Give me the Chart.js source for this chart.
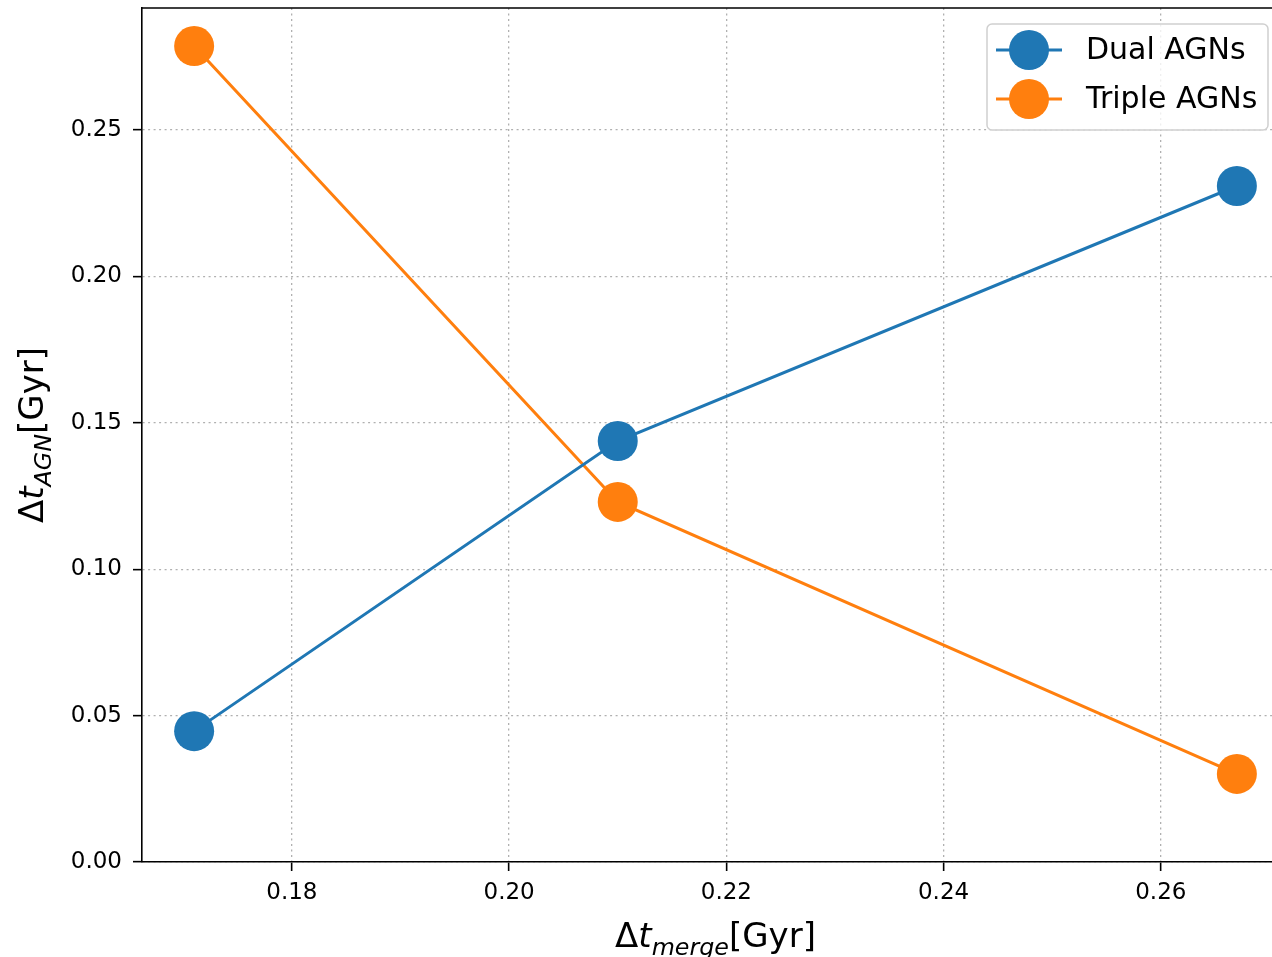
<!DOCTYPE html>
<html>
<head>
<meta charset="utf-8">
<script src="https://cdn.jsdelivr.net/npm/chart.js@4/dist/chart.umd.min.js"></script>
<style>
  html, body { margin: 0; padding: 0; overflow: hidden; background: #fff; }
  #wrap { position: relative; width: 1300px; height: 957px; }
</style>
</head>
<body>
<div id="wrap"><canvas id="myChart"></canvas></div>
<script>
// merger timescale vs AGN timescale
const mergeTimes = [0.171, 0.210, 0.267];
const dualAGN = [0.0447, 0.1438, 0.2309];
const tripleAGN = [0.2787, 0.1230, 0.0301];
const xTicks = [0.18, 0.20, 0.22, 0.24, 0.26];
const yTicks = [0.00, 0.05, 0.10, 0.15, 0.20, 0.25];

const blue = "#1f77b4";
const orange = "#ff7f0e";
const tickFont = { family: "DejaVu Sans", size: 23 };

function toPoints(ys) {
  return mergeTimes.map((x, i) => ({ x: x, y: ys[i] }));
}

// draws things like Δt_merge[Gyr]: upright / italic runs, subscripts smaller and lower
function drawMathLabel(ctx, parts, cx, cy, rotate) {
  const size = 34;
  ctx.save();
  ctx.translate(cx, cy);
  if (rotate) ctx.rotate(-Math.PI / 2);
  let total = 0;
  const widths = parts.map((p) => {
    const s = p.sub ? size * 0.7 : size;
    ctx.font = (p.italic ? "oblique " : "") + s + "px 'DejaVu Sans'";
    const w = ctx.measureText(p.text).width;
    total += w;
    return w;
  });
  let x = -total / 2;
  ctx.fillStyle = "#000";
  ctx.textBaseline = "alphabetic";
  ctx.textAlign = "left";
  parts.forEach((p, i) => {
    const s = p.sub ? size * 0.7 : size;
    ctx.font = (p.italic ? "oblique " : "") + s + "px 'DejaVu Sans'";
    ctx.fillText(p.text, x, size * 0.36 + (p.sub ? size * 0.24 : 0));
    x += widths[i];
  });
  ctx.restore();
}

const extrasPlugin = {
  id: "extras",
  beforeDatasetsDraw(chart) {
    const { ctx, chartArea } = chart;
    ctx.save();
    ctx.strokeStyle = "#000";
    ctx.lineWidth = 1.6;
    ctx.beginPath();
    ctx.moveTo(chartArea.left, chartArea.top);
    ctx.lineTo(chartArea.right, chartArea.top);
    ctx.lineTo(chartArea.right, chartArea.bottom);
    ctx.stroke();
    ctx.restore();
  },
  afterDraw(chart) {
    const { ctx, chartArea } = chart;

    drawMathLabel(ctx, [
      { text: "Δ" }, { text: "t", italic: true },
      { text: "merge", italic: true, sub: true }, { text: "[Gyr]" }
    ], (chartArea.left + chartArea.right) / 2, 935, false);

    drawMathLabel(ctx, [
      { text: "Δ" }, { text: "t", italic: true },
      { text: "AGN", italic: true, sub: true }, { text: "[Gyr]" }
    ], 31, (chartArea.top + chartArea.bottom) / 2, true);

    // legend box, upper right
    const w = 281, h = 106;
    const lx = chartArea.right - 21 - w;
    const ly = chartArea.top + 16;
    ctx.save();
    ctx.fillStyle = "rgba(255,255,255,0.8)";
    ctx.strokeStyle = "#d0d0d0";
    ctx.lineWidth = 1.5;
    ctx.beginPath();
    ctx.roundRect(lx, ly, w, h, 5);
    ctx.fill();
    ctx.stroke();
    chart.data.datasets.forEach((ds, i) => {
      const yy = ly + 26 + i * 49;
      ctx.strokeStyle = ds.borderColor;
      ctx.lineWidth = 3;
      ctx.beginPath();
      ctx.moveTo(lx + 9, yy);
      ctx.lineTo(lx + 75, yy);
      ctx.stroke();
      ctx.fillStyle = ds.pointBackgroundColor;
      ctx.beginPath();
      ctx.arc(lx + 42, yy, 20, 0, Math.PI * 2);
      ctx.fill();
      ctx.fillStyle = "#000";
      ctx.font = "30px 'DejaVu Sans'";
      ctx.textBaseline = "middle";
      ctx.fillText(ds.label, lx + 99, yy + 1);
    });
    ctx.restore();
  },
};

const gridStyle = {
  color: "#b0b0b0",
  lineWidth: 1.3,
  tickColor: "#000",
  tickLength: 9,
  tickWidth: 1.6,
  tickBorderDash: [],
};
const borderStyle = { color: "#000", width: 1.6, dash: [2, 3.5] };

new Chart(document.getElementById("myChart").getContext("2d"), {
  type: "line",
  data: {
    datasets: [
      {
        label: "Dual AGNs",
        data: toPoints(dualAGN),
        borderColor: blue,
        pointBackgroundColor: blue,
        pointBorderColor: blue,
        borderWidth: 3,
        pointRadius: 20,
        pointBorderWidth: 0,
        pointHoverRadius: 20,
        tension: 0,
      },
      {
        label: "Triple AGNs",
        data: toPoints(tripleAGN),
        borderColor: orange,
        pointBackgroundColor: orange,
        pointBorderColor: orange,
        borderWidth: 3,
        pointRadius: 20,
        pointBorderWidth: 0,
        pointHoverRadius: 20,
        tension: 0,
      },
    ],
  },
  options: {
    responsive: true,
    maintainAspectRatio: false,
    animation: false,
    layout: { autoPadding: false, padding: { top: 8, right: 11, left: 0, bottom: 0 } },
    plugins: { legend: { display: false }, tooltip: { enabled: false } },
    scales: {
      x: {
        type: "linear",
        min: 0.1662,
        max: 0.2718,
        afterBuildTicks: (scale) => { scale.ticks = xTicks.map((v) => ({ value: v })); },
        afterFit: (scale) => {
          scale.height = 95;
          scale.paddingLeft = 0;
          scale.paddingRight = 0;
        },
        grid: gridStyle,
        border: borderStyle,
        ticks: {
          font: tickFont,
          color: "#000",
          padding: 8,
          maxRotation: 0,
          callback: (v) => v.toFixed(2),
        },
      },
      y: {
        type: "linear",
        min: 0,
        max: 0.2917,
        afterBuildTicks: (scale) => { scale.ticks = yTicks.map((v) => ({ value: v })); },
        afterFit: (scale) => {
          scale.width = 142;
          scale.paddingTop = 0;
          scale.paddingBottom = 0;
        },
        grid: gridStyle,
        border: borderStyle,
        ticks: {
          font: tickFont,
          color: "#000",
          padding: 11,
          callback: (v) => v.toFixed(2),
        },
      },
    },
  },
  plugins: [extrasPlugin],
});
</script>
</body>
</html>
